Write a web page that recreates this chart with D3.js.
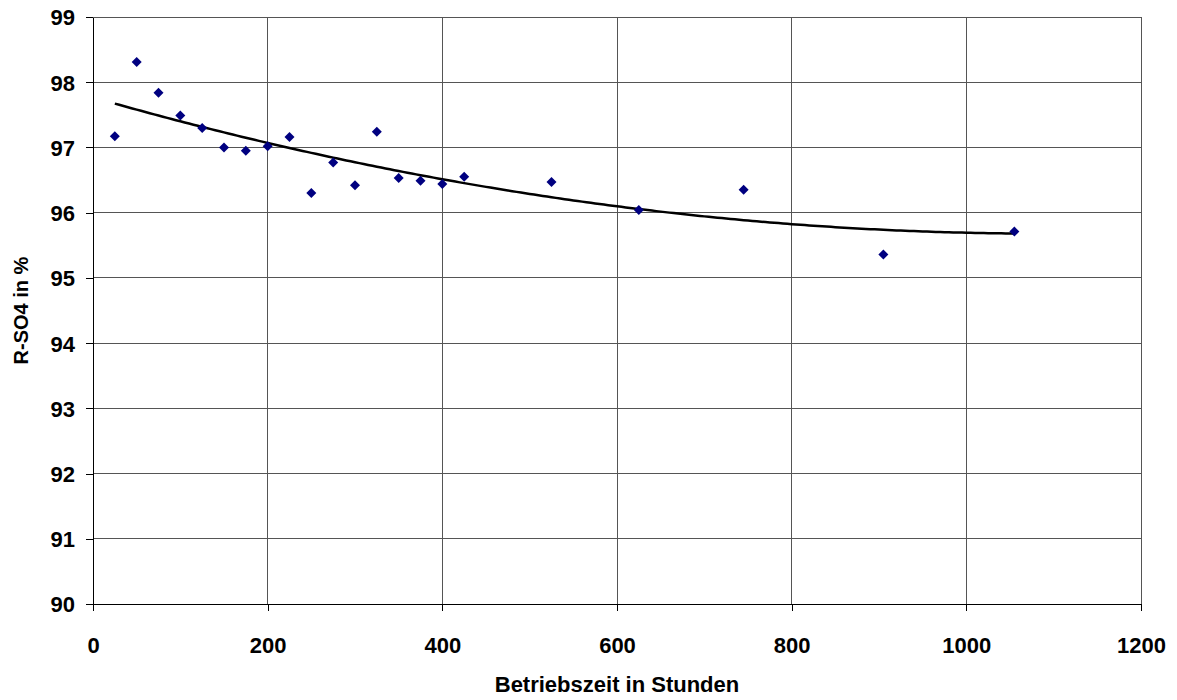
<!DOCTYPE html>
<html>
<head>
<meta charset="utf-8">
<script src="https://cdn.jsdelivr.net/npm/d3@7"></script>
<style>
    body { margin: 0; background: #fff; }
    svg text { font-family: "Liberation Sans", Arial, sans-serif; font-weight: bold; fill: #000; }
</style>
</head>
<body>
<svg id="chart"></svg>
<script>
// Betriebszeit (h) and R-SO4 (%)
const hours = [25, 50, 75, 100, 125, 150, 175, 200, 225, 250, 275, 300, 325, 350, 375, 400, 425, 525, 625, 745, 905, 1055];
const rso4 = [97.17, 98.31, 97.84, 97.49, 97.30, 97.00, 96.95, 97.02, 97.16, 96.30, 96.77, 96.42, 97.24, 96.53, 96.49, 96.44, 96.55, 96.47, 96.04, 96.35, 95.36, 95.71];
const xTicks = [0, 200, 400, 600, 800, 1000, 1200];
const yTicks = [90, 91, 92, 93, 94, 95, 96, 97, 98, 99];

const width = 1177, height = 700;
const margin = { left: 93, right: 36, top: 17, bottom: 96 };

const svg = d3.select("#chart").attr("width", width).attr("height", height);

const x = d3.scaleLinear().domain([0, 1200]).range([margin.left, width - margin.right]);
const y = d3.scaleLinear().domain([90, 99]).range([height - margin.bottom, margin.top]);

// grid
svg.append("g").selectAll("line")
    .data(yTicks)
    .join("line")
    .attr("x1", x(0)).attr("x2", x(1200))
    .attr("y1", d => y(d)).attr("y2", d => y(d))
    .attr("stroke", "#555").attr("stroke-width", 1).attr("shape-rendering", "crispEdges");

svg.append("g").selectAll("line")
    .data(xTicks.slice(1))
    .join("line")
    .attr("x1", d => x(d)).attr("x2", d => x(d))
    .attr("y1", y(90)).attr("y2", y(99))
    .attr("stroke", "#555").attr("stroke-width", 1).attr("shape-rendering", "crispEdges");

// axes
const xAxis = svg.append("g")
    .attr("transform", `translate(0,${y(90)})`)
    .call(d3.axisBottom(x).tickValues(xTicks).tickFormat(d3.format("d"))
        .tickSize(7).tickPadding(26).tickSizeOuter(0));
const yAxis = svg.append("g")
    .attr("transform", `translate(${x(0)},0)`)
    .call(d3.axisLeft(y).tickValues(yTicks).tickFormat(d3.format("d"))
        .tickSize(7).tickPadding(11).tickSizeOuter(0));

[xAxis, yAxis].forEach(g => {
    g.selectAll("text").style("font-size", "22px").attr("fill", "#000");
    g.selectAll("line").attr("stroke", "#000").attr("shape-rendering", "crispEdges");
    g.select(".domain").attr("stroke", "#000").attr("shape-rendering", "crispEdges");
});
yAxis.selectAll("text").attr("dy", "0.36em");

// polynomial (order 2) trend, least squares on the data
function quadFit(xs, ys) {
    const n = xs.length;
    let s = [0, 0, 0, 0, 0], t = [0, 0, 0];
    for (let i = 0; i < n; i++) {
        let p = 1;
        for (let k = 0; k < 5; k++) { s[k] += p; if (k < 3) t[k] += p * ys[i]; p *= xs[i]; }
    }
    const A = [[s[0], s[1], s[2], t[0]], [s[1], s[2], s[3], t[1]], [s[2], s[3], s[4], t[2]]];
    for (let i = 0; i < 3; i++) {
        for (let j = i + 1; j < 3; j++) {
            const f = A[j][i] / A[i][i];
            for (let k = i; k < 4; k++) A[j][k] -= f * A[i][k];
        }
    }
    const c = [0, 0, 0];
    for (let i = 2; i >= 0; i--) {
        let v = A[i][3];
        for (let k = i + 1; k < 3; k++) v -= A[i][k] * c[k];
        c[i] = v / A[i][i];
    }
    return v => c[0] + c[1] * v + c[2] * v * v;
}

const fit = quadFit(hours, rso4);
const trend = d3.range(hours[0], d3.max(hours) + 1, 5).map(h => [h, fit(h)]);

svg.append("path")
    .datum(trend)
    .attr("d", d3.line().x(d => x(d[0])).y(d => y(d[1])))
    .attr("fill", "none")
    .attr("stroke", "#000")
    .attr("stroke-width", 2.5);

// markers
svg.append("g").selectAll("path")
    .data(hours.map((h, i) => [h, rso4[i]]))
    .join("path")
    .attr("transform", d => `translate(${x(d[0])},${y(d[1])})`)
    .attr("d", "M0,-5L5,0L0,5L-5,0Z")
    .attr("fill", "#000080");

// titles
svg.append("text")
    .attr("x", (x(0) + x(1200)) / 2)
    .attr("y", 692)
    .attr("text-anchor", "middle")
    .style("font-size", "22px")
    .text("Betriebszeit in Stunden");

svg.append("text")
    .attr("transform", `translate(28,${(y(90) + y(99)) / 2}) rotate(-90)`)
    .attr("text-anchor", "middle")
    .style("font-size", "20px")
    .text("R-SO4 in %");
</script>
</body>
</html>
